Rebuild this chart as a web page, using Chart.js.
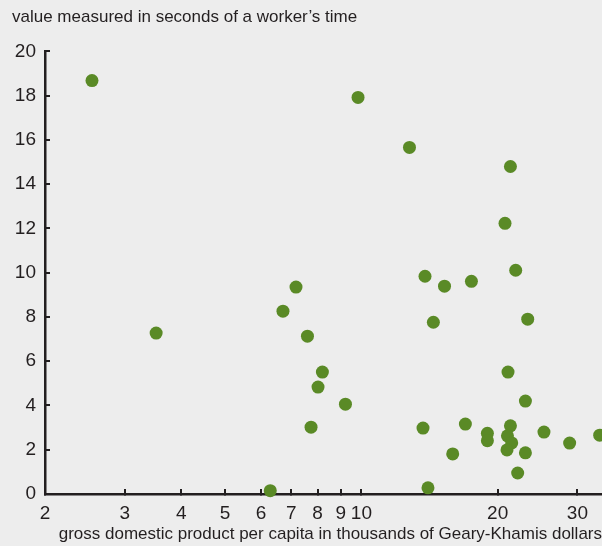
<!DOCTYPE html>
<html>
<head>
<meta charset="utf-8">
<script src="https://cdn.jsdelivr.net/npm/chart.js@4.4.1/dist/chart.umd.min.js"></script>
<style>
  html, body { margin: 0; padding: 0; background: #ededed; }
  #wrap { width: 602px; height: 546px; position: relative; }
</style>
</head>
<body>
<div id="wrap"><canvas id="scatter"></canvas></div>
<script>
// GDP per capita (thousands of Geary-Khamis dollars)
const gdp = [2.54, 3.52, 9.83, 12.77, 6.29, 6.71, 7.17, 7.60, 8.20, 8.02, 9.22, 7.74,
  13.82, 15.26, 17.50, 21.92, 14.42, 23.30, 21.34, 20.76, 21.08, 23.03, 13.68, 16.97,
  18.98, 18.98, 21.34, 21.02, 21.48, 20.97, 23.03, 25.31, 28.84, 33.6, 15.91, 22.14, 14.03];
// seconds of a worker's time
const seconds = [18.68, 7.27, 17.92, 15.66, 0.15, 8.26, 9.35, 7.13, 5.51, 4.83, 4.06, 3.02,
  9.84, 9.39, 9.61, 10.11, 7.76, 7.90, 14.80, 12.23, 5.51, 4.20, 2.98, 3.16,
  2.74, 2.41, 3.08, 2.63, 2.31, 1.99, 1.86, 2.80, 2.30, 2.66, 1.81, 0.95, 0.28];
const xTicks = [2, 3, 4, 5, 6, 7, 8, 9, 10, 20, 30];

const yTitle = "value measured in seconds of a worker\u2019s time";
const xTitle = "gross domestic product per capita in thousands of Geary-Khamis dollars";

const ink = "#231f20";
const green = "#5a8a26";
const fontFam = "'Liberation Sans', Arial, sans-serif";

const ctx = document.getElementById("scatter").getContext("2d");

const chart = new Chart(ctx, {
  type: "scatter",
  data: {
    datasets: [{
      data: gdp.map((g, i) => ({ x: g, y: seconds[i] })),
      backgroundColor: green,
      borderColor: green,
      pointRadius: 6.5,
      pointHoverRadius: 6.5,
      borderWidth: 0,
      clip: false,
    }],
  },
  options: {
    responsive: true,
    maintainAspectRatio: false,
    animation: false,
    layout: { autoPadding: false, padding: { left: 12, right: 0, top: 0, bottom: 0 } },
    plugins: {
      legend: { display: false },
      tooltip: { enabled: false },
      title: {
        display: true,
        text: yTitle,
        align: "start",
        color: ink,
        font: { family: fontFam, size: 17, weight: "normal" },
        padding: { top: 7, bottom: 24 },
      },
    },
    scales: {
      x: {
        type: "logarithmic",
        min: 2,
        max: 34,
        afterBuildTicks: (scale) => {
          scale.ticks = xTicks.map((v) => ({ value: v }));
        },
        afterFit: (scale) => {
          scale.height = 52;
          scale.paddingRight = 0;
        },
        border: { display: true, color: ink, width: 2.5 },
        grid: { drawOnChartArea: false, drawTicks: true, tickLength: -5, color: ink, lineWidth: 2 },
        ticks: {
          autoSkip: false,
          maxRotation: 0,
          padding: 13,
          color: ink,
          font: { family: fontFam, size: 19 },
          callback: (v) => String(v),
        },
        title: {
          display: true,
          text: xTitle,
          align: "end",
          color: ink,
          font: { family: fontFam, size: 17 },
          padding: { top: 0, bottom: 1 },
        },
      },
      y: {
        min: 0,
        max: 20,
        afterFit: (scale) => { scale.width = 33; },
        border: { display: true, color: ink, width: 2.5 },
        grid: { drawOnChartArea: false, drawTicks: true, tickLength: -5, color: ink, lineWidth: 2 },
        ticks: {
          stepSize: 2,
          padding: 14,
          color: ink,
          font: { family: fontFam, size: 19 },
        },
      },
    },
  },
});
</script>
</body>
</html>
